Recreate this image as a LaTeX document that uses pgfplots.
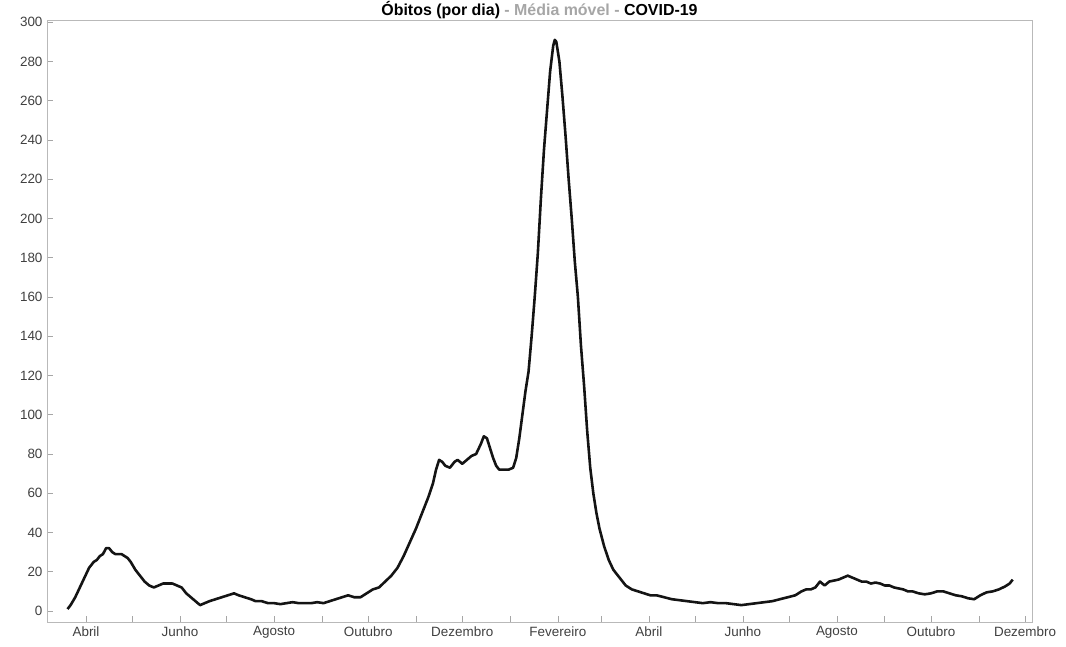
\documentclass[border=0pt]{standalone}
\usepackage{fontspec}
\setmainfont{Liberation Sans}
\usepackage{pgfplots}
\pgfplotsset{compat=1.18}
\usetikzlibrary{calc}

\begin{document}
\begin{tikzpicture}
\begin{axis}[
    scale only axis,
    width=985bp, height=602bp,
    xmin=-25.3, xmax=613.5,
    ymin=-5.6, ymax=301.1,
    axis line style={gray!55, line width=0.6pt},
    tick style={gray!70, line width=0.6pt},
    major tick length=6bp,
    tick align=inside,
    xtick pos=bottom, ytick pos=left,
    ytick={0,20,...,300},
    xtick={0,30,61,91,122,153,183,214,244,275,306,334,365,395,426,456,487,518,548,579,609},
    xticklabels={Abril,,Junho,,Agosto,,Outubro,,Dezembro,,Fevereiro,,Abril,,Junho,,Agosto,,Outubro,,Dezembro},
    /pgf/number format/assume math mode=true,
    tick label style={font=\fontsize{13.5}{15}\selectfont, text=black!75},
    yticklabel style={xshift=-1bp},
    xticklabel style={yshift=-1bp},
    clip=false,
]

% media movel de obitos diarios (dia 0 = 1 de abril de 2020)
\addplot[black!92, line width=2.6pt, line join=round] coordinates {
(-12,1) (-10,3) (-7,7) (-4,12) (-1,17) (2,22) (5,25) (7,26) (9,28) (11,29)
(13,32) (15,32) (17,30) (19,29) (21,29) (23,29) (25,28) (27,27) (29,25) (32,21)
(35,18) (38,15) (41,13) (44,12) (47,13) (50,14) (53,14) (56,14) (59,13) (62,12)
(65,9) (68,7) (71,5) (74,3) (77,4) (80,5) (84,6) (88,7) (92,8) (96,9)
(99,8) (103,7) (107,6) (110,5) (114,5) (118,4) (122,4) (126,3.5) (130,4) (134,4.5)
(138,4) (142,4) (146,4) (150,4.5) (154,4) (158,5) (162,6) (166,7) (170,8) (174,7)
(178,7) (182,9) (186,11) (190,12) (194,15) (198,18) (202,22) (206,28) (210,35) (214,42)
(218,50) (222,58) (225,65) (227,72) (229,77) (231,76) (233,74) (236,73) (239,76) (241,77)
(244,75) (247,77) (250,79) (253,80) (256,85) (258,89) (260,88) (262,83) (264,78) (266,74)
(268,72) (271,72) (274,72) (277,73) (279,78) (281,88) (283,100) (285,112) (287,122) (289,140)
(291,160) (293,182) (295,210) (297,235) (299,255) (301,275) (303,288) (304,291) (305,290) (306,285)
(307,280) (309,262) (311,242) (313,220) (315,200) (317,178) (319,160) (321,135) (323,115) (325,92)
(327,73) (329,60) (331,50) (333,42) (336,33) (339,26) (342,21) (346,17) (350,13) (354,11)
(358,10) (362,9) (366,8) (370,8) (375,7) (380,6) (385,5.5) (390,5) (395,4.5) (400,4)
(405,4.5) (410,4) (415,4) (420,3.5) (425,3) (430,3.5) (435,4) (440,4.5) (445,5) (450,6)
(455,7) (460,8) (464,10) (467,11) (470,11) (473,12) (476,15) (479,13) (482,15) (485,15.5)
(488,16) (491,17) (494,18) (497,17) (500,16) (503,15) (506,15) (509,14) (512,14.5) (515,14)
(518,13) (521,13) (524,12) (527,11.5) (530,11) (533,10) (536,10) (540,9) (544,8.5) (548,9)
(552,10) (556,10) (560,9) (564,8) (568,7.5) (572,6.5) (576,6) (580,8) (584,9.5) (588,10)
(592,11) (596,12.5) (599,14) (601,16)
};

\node[anchor=base, yshift=4bp, font=\fontsize{16}{18}\selectfont\bfseries]
  at (rel axis cs:0.5,1)
  {Óbitos (por dia) \textcolor{gray!70}{- Média móvel -} COVID-19};
\end{axis}
\pgfresetboundingbox
\path[use as bounding box] ($(current axis.south west)+(-47bp,-25bp)$) rectangle ($(current axis.south west)+(1019bp,622bp)$);
\end{tikzpicture}
\end{document}
